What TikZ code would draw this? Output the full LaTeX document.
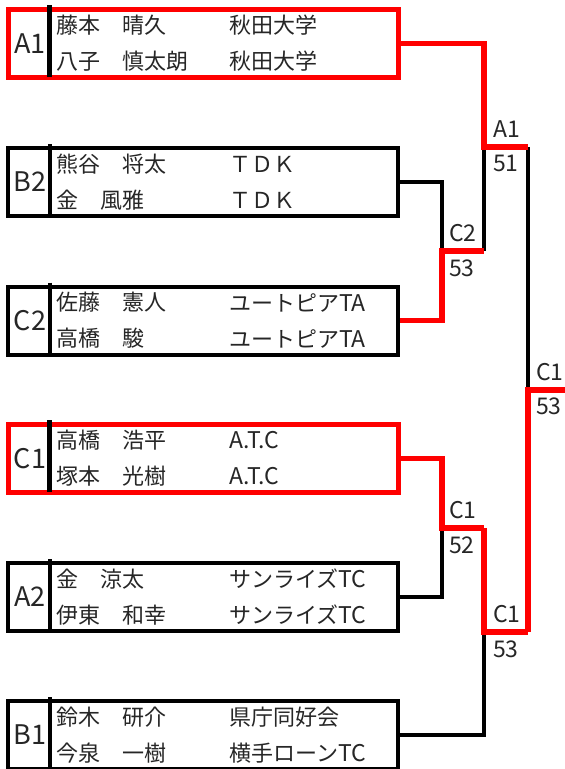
\documentclass[tikz,border=0pt]{standalone}
\usepackage{fontspec}
\setmainfont{Noto Sans CJK JP}
\begin{document}
\begin{tikzpicture}[x=1pt,y=-1pt,
  box/.style={draw=black,line width=4pt,minimum width=390pt,minimum height=68pt,inner sep=0pt},
  winbox/.style={box,draw=red,line width=5pt},
  divider/.style={line width=4.5pt,black},
  seed/.style={font=\fontsize{27}{27}\selectfont,text=black!85,inner sep=0pt},
  nm/.style={anchor=west,font=\fontsize{22}{22}\selectfont,text=black!85,inner sep=0pt},
  bl/.style={line width=4pt,black},
  rl/.style={line width=5.5pt,red,line join=miter},
  rlab/.style={anchor=west,font=\fontsize{23}{23}\selectfont,text=black!85,inner sep=0pt}
]
\useasboundingbox (0,0) rectangle (565,769);
\newcommand{\lt}[1]{{\fontsize{23}{23}\selectfont #1}}
% boxes
\node[winbox] (bA1) at (203,43.5) {};
\node[box]    (bB2) at (203,182) {};
\node[box]    (bC2) at (203,320.5) {};
\node[winbox] (bC1) at (203,458.5) {};
\node[box]    (bA2) at (203,597) {};
\node[box]    (bB1) at (203,735) {};
\foreach \b in {bA1,bB2,bC2,bC1,bA2,bB1}{
  \draw[divider] (\b.north west) ++(44,-2) -- ++(0,72);
}
% seed labels
\node[seed] (sA1) at (30,43.5) {A1};
\node[seed] (sB2) at (30,182) {B2};
\node[seed] (sC2) at (30,320.5) {C2};
\node[seed] (sC1) at (30,458.5) {C1};
\node[seed] (sA2) at (30,597) {A2};
\node[seed] (sB1) at (30,735) {B1};
% names
\node[nm] (nA1a) at (56,25.5) {藤本　晴久};
\node[nm] (nA1b) at (56,61.5) {八子　慎太朗};
\node[nm] (cA1a) at (229,25.5) {秋田大学};
\node[nm] (cA1b) at (229,61.5) {秋田大学};
\node[nm] (nB2a) at (56,164) {熊谷　将太};
\node[nm] (nB2b) at (56,200) {金　風雅};
\node[nm] (cB2a) at (229,164) {ＴＤＫ};
\node[nm] (cB2b) at (229,200) {ＴＤＫ};
\node[nm] (nC2a) at (56,302.5) {佐藤　憲人};
\node[nm] (nC2b) at (56,338.5) {高橋　駿};
\node[nm] (cC2a) at (229,302.5) {ユートピア\lt{TA}};
\node[nm] (cC2b) at (229,338.5) {ユートピア\lt{TA}};
\node[nm] (nC1a) at (56,440.5) {高橋　浩平};
\node[nm] (nC1b) at (56,476.5) {塚本　光樹};
\node[nm] (cC1a) at (229,440.5) {\lt{A.T.C}};
\node[nm] (cC1b) at (229,476.5) {\lt{A.T.C}};
\node[nm] (nA2a) at (56,579) {金　涼太};
\node[nm] (nA2b) at (56,615) {伊東　和幸};
\node[nm] (cA2a) at (229,579) {サンライズ\lt{TC}};
\node[nm] (cA2b) at (229,615) {サンライズ\lt{TC}};
\node[nm] (nB1a) at (56,717) {鈴木　研介};
\node[nm] (nB1b) at (56,753) {今泉　一樹};
\node[nm] (cB1a) at (229,717) {県庁同好会};
\node[nm] (cB1b) at (229,753) {横手ローン\lt{TC}};
% junctions
\coordinate (j1) at (442,251);
\coordinate (j2) at (484,147);
\coordinate (j3) at (442,528);
\coordinate (j4) at (484,632);
\coordinate (j5) at (528,390);
\coordinate (fin) at (566,390);
% black (losing) lines
\draw[bl] (bB2.east) -| (j1);
\draw[bl] (bA2.east) -| (j3);
\draw[bl] (bB1.east) -| (j4);
\draw[bl] (j1 -| j2) -- (j2);
\draw[bl] (j2 -| j5) -- (j5);
% red (winning) lines
\draw[rl] (bC2.east) -| (j1) -- (j1 -| j2);
\draw[rl] (bA1.east) -| (j2) -- (j2 -| j5);
\draw[rl] (bC1.east) -| (j3) -- (j3 -| j4);
\draw[rl] (j3 -| j4) -- (j4) -- (j4 -| j5);
\draw[rl] (j4 -| j5) -- (j5) -- (fin);
% round labels
\node[rlab] (w1) at ([xshift=7pt,yshift=18pt]j1) {C2};
\node[rlab] (s1) at ([xshift=7pt,yshift=-17pt]j1) {53};
\node[rlab] (w2) at ([xshift=9pt,yshift=18pt]j2) {A1};
\node[rlab] (s2) at ([xshift=9pt,yshift=-16pt]j2) {51};
\node[rlab] (w3) at ([xshift=7pt,yshift=18pt]j3) {C1};
\node[rlab] (s3) at ([xshift=7pt,yshift=-17pt]j3) {52};
\node[rlab] (w4) at ([xshift=9pt,yshift=18pt]j4) {C1};
\node[rlab] (s4) at ([xshift=9pt,yshift=-17pt]j4) {53};
\node[rlab] (w5) at ([xshift=8pt,yshift=18pt]j5) {C1};
\node[rlab] (s5) at ([xshift=8pt,yshift=-16pt]j5) {53};
\end{tikzpicture}
\end{document}
